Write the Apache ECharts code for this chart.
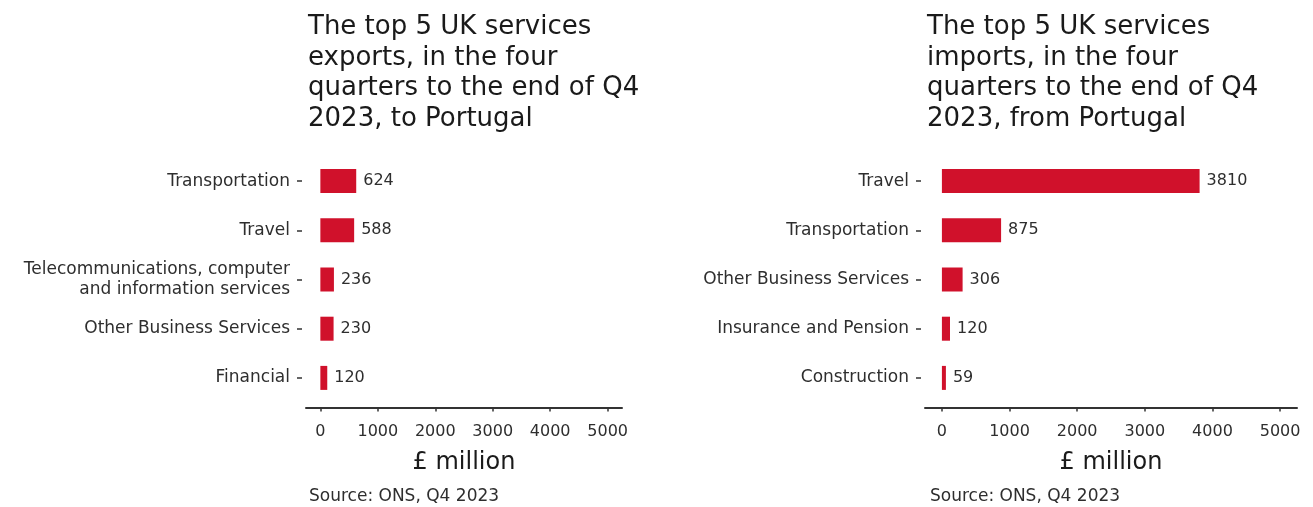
<!DOCTYPE html>
<html>
<head>
<meta charset="utf-8">
<script src="https://cdn.jsdelivr.net/npm/echarts@6/dist/echarts.min.js"></script>
<style>
html,body{margin:0;padding:0;background:#fff;}
#chart{width:1313px;height:507px;}
</style>
</head>
<body>
<div id="chart"></div>
<script>
// ---- data ----
const exportCategories = ['Transportation', 'Travel', 'Telecommunications, computer\nand information services', 'Other Business Services', 'Financial'];
const exportValues = [624, 588, 236, 230, 120];
const importCategories = ['Travel', 'Transportation', 'Other Business Services', 'Insurance and Pension', 'Construction'];
const importValues = [3810, 875, 306, 120, 59];
const xTicks = [0, 1000, 2000, 3000, 4000, 5000];
const exportTitle = 'The top 5 UK services\nexports, in the four\nquarters to the end of Q4\n2023, to Portugal';
const importTitle = 'The top 5 UK services\nimports, in the four\nquarters to the end of Q4\n2023, from Portugal';
const axisName = '£ million';
const sourceText = 'Source: ONS, Q4 2023';

const FONT = 'DejaVu Sans';
const BAR = '#d0112b';
const DARK = '#333333';
const TXT = '#2e2e2e';

const chart = echarts.init(document.getElementById('chart'), null, {renderer: 'canvas'});

function xAxisCfg(gridIndex) {
  return {
    type: 'value', gridIndex: gridIndex, min: -250, max: 5250,
    offset: 5,
    axisLine: {show: true, onZero: false, lineStyle: {color: DARK, width: 2}},
    axisTick: {show: true, length: 4, lineStyle: {color: DARK, width: 1.5}, customValues: xTicks},
    axisLabel: {show: true, customValues: xTicks, margin: 16, fontFamily: FONT, fontSize: 16, color: TXT,
      formatter: function (v) { return String(v); }},
    splitLine: {show: false},
    name: axisName, nameLocation: 'middle', nameGap: 43,
    nameTextStyle: {fontFamily: FONT, fontSize: 24, color: '#1a1a1a'}
  };
}
function yAxisCfg(gridIndex, cats) {
  return {
    type: 'category', gridIndex: gridIndex, data: cats, inverse: true,
    offset: 4,
    axisLine: {show: false, onZero: false},
    axisTick: {show: true, alignWithLabel: true, length: 5, lineStyle: {color: DARK, width: 1.5}},
    axisLabel: {fontFamily: FONT, fontSize: 17, color: TXT, margin: 12, lineHeight: 20, align: 'right'},
    splitLine: {show: false}
  };
}
function seriesCfg(idx, vals) {
  return {
    type: 'bar', xAxisIndex: idx, yAxisIndex: idx, data: vals, barWidth: 24,
    itemStyle: {color: BAR},
    label: {show: true, position: 'right', distance: 7, fontFamily: FONT, fontSize: 16, color: TXT},
    silent: true, animation: false
  };
}

chart.setOption({
  animation: false,
  backgroundColor: '#ffffff',
  title: [
    {text: exportTitle, left: 303, top: 7, textStyle: {fontFamily: FONT, fontSize: 26, fontWeight: 'normal', color: '#1a1a1a', lineHeight: 30.5}},
    {text: importTitle, left: 922, top: 7, textStyle: {fontFamily: FONT, fontSize: 26, fontWeight: 'normal', color: '#1a1a1a', lineHeight: 30.5}},
    {text: sourceText, left: 304, top: 483, textStyle: {fontFamily: FONT, fontSize: 17, fontWeight: 'normal', color: TXT}},
    {text: sourceText, left: 925, top: 483, textStyle: {fontFamily: FONT, fontSize: 17, fontWeight: 'normal', color: TXT}}
  ],
  grid: [
    {left: 306, width: 316, top: 156.5, height: 246},
    {left: 925, width: 372, top: 156.5, height: 246}
  ],
  xAxis: [xAxisCfg(0), xAxisCfg(1)],
  yAxis: [yAxisCfg(0, exportCategories), yAxisCfg(1, importCategories)],
  series: [seriesCfg(0, exportValues), seriesCfg(1, importValues)]
});
</script>
</body>
</html>
